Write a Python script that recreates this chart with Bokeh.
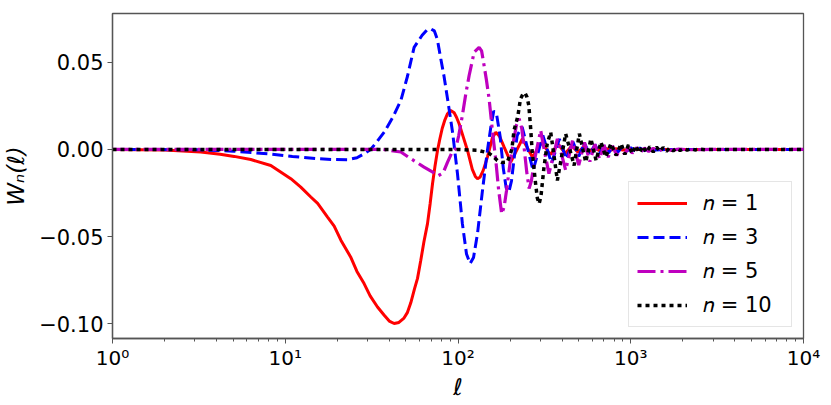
from bokeh.plotting import figure
from bokeh.models import Range1d, FixedTicker, CustomJSTickFormatter, Legend, LegendItem
from bokeh.embed import file_html
from bokeh.resources import INLINE

# ---- data ----
ell_n1 = [1, 2, 3.24, 4.2, 5.06, 6.32, 8.25, 10.77, 12.3, 14.06, 15.4, 17.57, 19.2, 20.99, 23.9, 26, 28.6, 31,
          34.2, 37.3, 40, 42.7, 45.5, 48.5, 51, 53.3, 56, 58.3, 60.9, 63.5, 66.6, 69, 71.2, 73.5, 76.1, 78.5, 81,
          84, 87, 90.7, 95, 98, 101.5, 107, 113.5, 121, 126, 129.7, 134, 140, 148, 158, 165.5, 174, 185, 202,
          236, 270, 305, 342, 380, 418, 456, 495, 535, 575, 615, 660, 710, 760, 820, 900, 1000, 1500, 10000]
w_n1 = [0, -0.0004, -0.0015, -0.0028, -0.0040, -0.0058, -0.0092, -0.0168, -0.0216, -0.0273, -0.0310, -0.0388,
        -0.0440, -0.0521, -0.0617, -0.0700, -0.0770, -0.0840, -0.0904, -0.0950, -0.0985, -0.0999, -0.0993,
        -0.0970, -0.0935, -0.0880, -0.0800, -0.0740, -0.0636, -0.0530, -0.0426, -0.0310, -0.0197, -0.0100,
        -0.0006, 0.0060, 0.0120, 0.0170, 0.0205, 0.0224, 0.0210, 0.0185, 0.0147, 0.0075, -0.0006, -0.0115,
        -0.0155, -0.0168, -0.0160, -0.0120, -0.0044, 0.0065, 0.0099, 0.0075, 0.0013, -0.0073, 0.0061,
        -0.0045, 0.004, -0.003, 0.003, -0.0022, 0.002, -0.0016, 0.0014, -0.0012, 0.001, -0.0008, 0.0007,
        -0.0005, 0.0004, -0.0003, 0.0, 0.0, 0.0]

ell_n3 = [1, 3.2, 5, 7.9, 11, 15.4, 19, 22.9, 26, 28.6, 31.2, 34, 37.4, 42, 46.7, 51, 55.7, 62, 66, 69.5, 73,
          76, 79.5, 83, 87, 93, 99.3, 106, 112, 117.5, 123, 129.7, 138.6, 148, 155, 161, 167, 175, 183, 190, 197,
          204, 212, 220, 235, 272, 310, 348, 386, 424, 462, 500, 540, 580, 620, 660, 700, 745, 790, 840, 890,
          945, 1000, 1060, 1130, 1200, 1300, 1400, 1600, 10000]
w_n3 = [0, -0.0002, -0.0010, -0.0025, -0.0040, -0.0053, -0.0058, -0.0059, -0.0048, -0.0025, 0.0, 0.0045,
        0.0099, 0.0185, 0.0281, 0.0420, 0.0586, 0.0655, 0.0685, 0.0692, 0.0680, 0.0630, 0.052, 0.0420, 0.029,
        0.0099, -0.0139, -0.0426, -0.060, -0.0655, -0.0620, -0.0483, -0.0235, -0.0006, 0.0130, 0.0220, 0.0205,
        0.0080, -0.0110, -0.0220, -0.0245, -0.0180, -0.004, 0.008, 0.013, -0.012, 0.008, -0.008, 0.006,
        -0.0055, 0.0045, -0.004, 0.0035, -0.003, 0.0028, -0.0025, 0.0022, -0.002, 0.0018, -0.0016, 0.0014,
        -0.0012, 0.001, -0.0009, 0.0008, -0.0006, 0.0005, -0.0004, 0.0, 0.0]

ell_n5 = [1, 20, 37, 40.9, 46.7, 53.3, 63.6, 72.7, 77, 82, 87, 92, 97, 101, 106, 111, 116, 124, 132.5, 137,
          141.6, 146, 151.4, 158.5, 165.5, 172, 179, 185, 191, 201, 210, 218, 226, 234, 242, 250, 258, 266, 280,
          301, 318, 336, 356, 376, 398, 420, 460, 500, 540, 580, 620, 660, 700, 740, 785, 830, 875, 920, 970,
          1020, 1080, 1140, 1200, 1270, 1350, 1450, 1560, 1700, 1900, 2200, 3000, 10000]
w_n5 = [0, 0, 0, -0.0006, -0.0015, -0.0053, -0.0101, -0.0135, -0.0150, -0.0135, -0.0073, -0.002, 0.0004,
        0.008, 0.0195, 0.032, 0.0424, 0.0558, 0.0586, 0.0565, 0.0481, 0.040, 0.029, 0.0099, -0.0063, -0.0235,
        -0.0370, -0.0330, -0.0235, -0.0063, 0.0052, 0.0140, 0.0176, 0.0120, 0.000, -0.013, -0.0225, -0.018,
        -0.004, 0.011, -0.002, -0.0139, -0.004, 0.006, -0.003, -0.012, 0.005, -0.009, 0.004, -0.007, 0.003,
        -0.0055, 0.0025, -0.0045, 0.002, -0.0035, 0.0015, -0.0028, 0.0012, -0.0022, 0.001, -0.0016, 0.0008,
        -0.0012, 0.0006, -0.0008, 0.0004, -0.0005, 0.0002, -0.0002, 0.0, 0.0]

ell_n10 = [1, 100, 130, 150, 160, 169, 180, 193, 205, 211, 222, 230, 237, 244, 251, 257, 263, 269, 276, 282,
           288, 295, 302, 314, 328, 344, 360, 376, 398, 420, 470, 504, 549, 588, 630, 672, 717, 768, 823, 880,
           925, 970, 1020, 1070, 1120, 1175, 1230, 1290, 1350, 1410, 1475, 1540, 1610, 1680, 1760, 1840, 1930,
           2020, 2120, 2230, 2350, 2500, 2700, 3000, 10000]
w_n10 = [0, 0, -0.0005, -0.002, -0.004, -0.0063, -0.0075, -0.0073, 0.0, 0.011, 0.019, 0.029, 0.0315, 0.0325,
         0.030, 0.0252, 0.013, -0.0015, -0.012, -0.0206, -0.028, -0.0311, -0.027, -0.011, 0.003, 0.0099, -0.004,
         -0.0178, -0.004, 0.009, -0.0092, 0.009, -0.0073, 0.0061, -0.0063, 0.0042, -0.0044, 0.0033, -0.0034,
         0.0033, -0.0028, 0.0026, -0.0024, 0.0022, -0.002, 0.0019, -0.0017, 0.0016, -0.0015, 0.0014, -0.0012,
         0.0011, -0.001, 0.0009, -0.0008, 0.0007, -0.0006, 0.0005, -0.0004, 0.0004, -0.0003, 0.0002, -0.0002,
         0.0, 0.0]

labels = ["\U0001D45B = 1", "\U0001D45B = 3", "\U0001D45B = 5", "\U0001D45B = 10"]
x_major = [1, 10, 100, 1000, 10000]
y_major = [-0.10, -0.05, 0.0, 0.05]

# ---- figure ----
p = figure(x_axis_type="log", output_backend="svg", toolbar_location=None,
           frame_width=691, frame_height=325,
           min_border_left=104, min_border_right=20, min_border_top=13, min_border_bottom=58,
           x_range=Range1d(1, 10000), y_range=Range1d(-0.1085, 0.078))
p.xgrid.visible = False
p.ygrid.visible = False
p.outline_line_color = "#555555"
p.outline_line_width = 1.3
p.background_fill_color = "white"
p.border_fill_color = "white"

r1 = p.line(ell_n1, w_n1, line_color="#ff0000", line_width=3)
r3 = p.line(ell_n3, w_n3, line_color="#0000ff", line_width=3, line_dash="11 5")
r5 = p.line(ell_n5, w_n5, line_color="#bf00bf", line_width=3.2, line_dash="18 5 3 5")
r10 = p.line(ell_n10, w_n10, line_color="#000000", line_width=3.5, line_dash="4 4")

xa = p.xaxis[0]
xa.ticker = FixedTicker(ticks=x_major,
                        minor_ticks=[m * 10 ** e for e in range(4) for m in range(2, 10)])
xa.formatter = CustomJSTickFormatter(code="""
const s = {0:'\u2070', 1:'\u00b9', 2:'\u00b2', 3:'\u00b3', 4:'\u2074'};
return '10' + s[Math.round(Math.log10(tick))];
""")
ya = p.yaxis[0]
ya.ticker = FixedTicker(ticks=y_major, minor_ticks=[])
ya.formatter = CustomJSTickFormatter(code="""
if (Math.abs(tick) < 1e-9) return '0.00';
return (tick < 0 ? '\u2212' : '') + Math.abs(tick).toFixed(2);
""")

for ax in (xa, ya):
    ax.axis_line_color = "#555555"
    ax.axis_line_width = 1.3
    ax.major_tick_line_color = "#555555"
    ax.minor_tick_line_color = "#555555"
    ax.major_tick_out = 5
    ax.major_tick_in = 0
    ax.minor_tick_out = 3
    ax.minor_tick_in = 0
    ax.major_label_text_font = "DejaVu Sans"
    ax.major_label_text_color = "black"
    ax.axis_label_text_font = "DejaVu Sans"
    ax.axis_label_text_font_style = "italic"
    ax.axis_label_text_font_size = "23px"
    ax.axis_label_text_color = "black"

xa.major_label_text_font_size = "20px"
xa.major_label_standoff = 2
xa.axis_label = "\u2113"
xa.axis_label_standoff = 1
ya.major_label_text_font_size = "21px"
ya.major_label_standoff = 4
ya.axis_label = "W\u2099(\u2113)"
ya.axis_label_standoff = 7

legend = Legend(items=[LegendItem(label=labels[0], renderers=[r1]),
                       LegendItem(label=labels[1], renderers=[r3]),
                       LegendItem(label=labels[2], renderers=[r5]),
                       LegendItem(label=labels[3], renderers=[r10])],
                location="bottom_right")
legend.margin = 11
legend.padding = 8
legend.spacing = 8
legend.glyph_width = 50
legend.glyph_height = 26
legend.label_height = 26
legend.label_width = 80
legend.label_standoff = 16
legend.label_text_font = "DejaVu Sans"
legend.label_text_font_size = "21px"
legend.label_text_color = "black"
legend.border_line_color = "#cccccc"
legend.border_line_width = 1
legend.background_fill_alpha = 0.8
p.add_layout(legend, "center")

open("out.html", "w").write(file_html(p, INLINE))
